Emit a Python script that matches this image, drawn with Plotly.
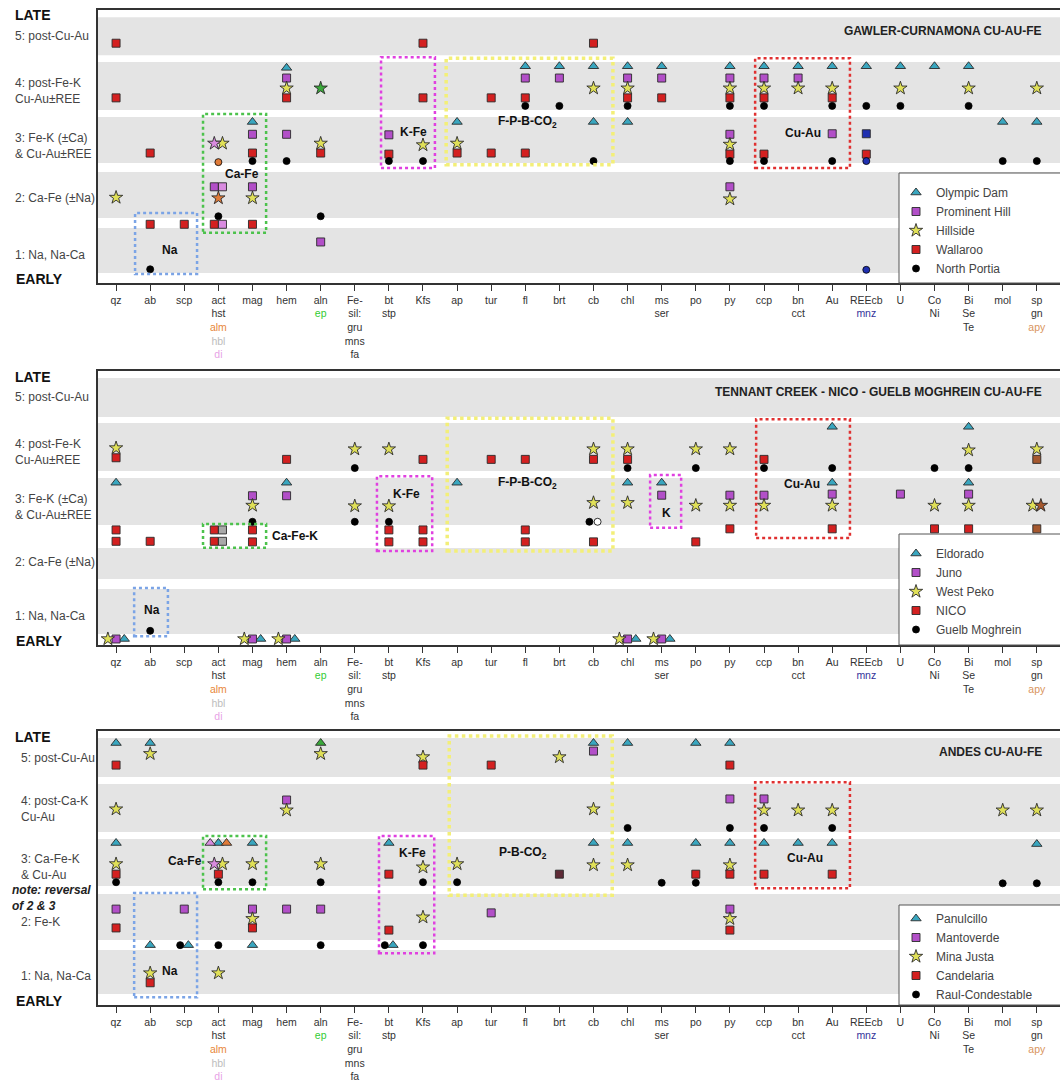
import plotly.graph_objects as go
from collections import defaultdict

# ---------------- categories / tick labels ----------------
CATS = ["qz", "ab", "scp", "act", "mag", "hem", "aln", "Fe-sil", "bt", "Kfs", "ap", "tur", "fl", "brt",
        "cb", "chl", "ms", "po", "py", "ccp", "bn", "Au", "REEcb", "U", "Co", "Bi", "mol", "sp"]

LABEL_COL = {"alm": "#e8873a", "hbl": "#bdbdbd", "di": "#e7a3e6", "ep": "#33cc33", "mnz": "#33339a", "apy": "#d9955e"}


def c(t, k):
    return "<span style='color:%s'>%s</span>" % (LABEL_COL[k], t)


TICKTEXT = ["qz", "ab", "scp",
            "act<br>hst<br>" + c("alm", "alm") + "<br>" + c("hbl", "hbl") + "<br>" + c("di", "di"),
            "mag", "hem", "aln<br>" + c("ep", "ep"), "Fe-<br>sil:<br>gru<br>mns<br>fa", "bt<br>stp", "Kfs",
            "ap", "tur", "fl", "brt", "cb", "chl", "ms<br>ser", "po", "py", "ccp", "bn<br>cct", "Au",
            "REEcb<br>" + c("mnz", "mnz"), "U", "Co<br>Ni", "Bi<br>Se<br>Te", "mol",
            "sp<br>gn<br>" + c("apy", "apy")]

# ---------------- data: stage level per occurrence ----------------
# Panel 1: Gawler-Curnamona
OD_CATS = ["hem", "fl", "brt", "cb", "chl", "ms", "py", "ccp", "bn", "Au", "REEcb", "U", "Co", "Bi",
           "mag", "ap", "cb", "chl", "mol", "sp"]
OD_Y = [4.41, 4.44, 4.44, 4.44, 4.44, 4.44, 4.44, 4.44, 4.44, 4.44, 4.44, 4.44, 4.44, 4.44,
        3.40, 3.40, 3.40, 3.40, 3.40, 3.40]
OD_V = [""] * len(OD_CATS)

PH_CATS = ["act", "act", "mag", "mag", "hem", "hem", "aln", "bt", "fl", "brt", "chl", "ms", "py", "py", "py",
           "ccp", "bn", "Au", "REEcb"]
PH_Y = [2.19, 2.19, 3.17, 2.19, 4.22, 3.17, 1.16, 3.16, 4.22, 4.22, 4.22, 4.22, 4.22, 3.17, 2.19,
        4.22, 4.22, 3.18, 3.18]
PH_V = ["", "di", "", "", "", "", "", "", "", "", "", "", "", "", "", "", "", "", "mnz"]

HS_CATS = ["qz", "act", "act", "act", "mag", "hem", "aln", "aln", "Kfs", "ap", "cb", "chl", "py", "py", "py",
           "ccp", "bn", "Au", "U", "Bi", "sp"]
HS_Y = [1.99, 3.00, 3.00, 1.98, 1.98, 4.03, 4.03, 3.00, 2.97, 3.00, 4.03, 4.03, 4.03, 2.98, 1.96,
        4.03, 4.03, 4.03, 4.03, 4.03, 4.03]
HS_V = ["", "di", "", "alm", "", "", "ep", "", "", "", "", "", "", "", "", "", "", "", "", "", ""]

WR_CATS = ["qz", "qz", "ab", "ab", "scp", "act", "act", "mag", "mag", "hem", "aln", "bt", "Kfs", "Kfs", "ap",
           "tur", "tur", "fl", "fl", "cb", "chl", "ms", "py", "py", "ccp", "ccp", "Au", "REEcb"]
WR_Y = [4.87, 3.85, 2.82, 1.49, 1.49, 1.49, 1.49, 2.82, 1.49, 3.85, 2.82, 2.80, 4.87, 3.85, 2.82,
        3.85, 2.82, 3.85, 2.82, 4.87, 3.85, 3.85, 3.85, 2.80, 3.85, 2.80, 3.85, 2.80]
WR_V = ["", "", "", "", "", "", "di"] + [""] * 21

NP_CATS = ["ab", "act", "act", "mag", "hem", "aln", "bt", "Kfs", "fl", "brt", "cb", "chl", "py", "py", "ccp",
           "ccp", "Au", "Au", "REEcb", "REEcb", "REEcb", "U", "Bi", "mol", "sp"]
NP_Y = [0.65, 2.65, 1.64, 2.67, 2.67, 1.64, 2.67, 2.67, 3.70, 3.70, 2.67, 3.70, 3.70, 2.67, 3.70,
        2.67, 3.70, 2.67, 3.70, 2.67, 0.64, 3.70, 3.70, 2.67, 2.67]
NP_V = ["", "alm"] + [""] * 17 + ["mnz", "mnz"] + [""] * 4

# Panel 2: Tennant Creek - NICO - Guelb Moghrein
EL_CATS = ["qz", "hem", "ap", "chl", "ms", "Au", "Au", "Bi", "Bi", "qz", "mag", "hem", "chl", "ms"]
EL_Y = [3.42, 3.42, 3.42, 3.42, 3.42, 4.45, 3.42, 4.45, 3.42, 0.54, 0.54, 0.54, 0.54, 0.54]
EL_V = [""] * len(EL_CATS)

JU_CATS = ["mag", "hem", "ms", "py", "ccp", "Au", "U", "Bi", "qz", "mag", "hem", "chl", "ms"]
JU_Y = [3.18, 3.18, 3.19, 3.19, 3.19, 3.21, 3.21, 3.21, 0.54, 0.54, 0.54, 0.54, 0.54]
JU_V = [""] * len(JU_CATS)

WP_CATS = ["qz", "mag", "Fe-sil", "Fe-sil", "bt", "bt", "cb", "cb", "chl", "chl", "po", "po", "py", "py",
           "ccp", "Au", "Co", "Bi", "Bi", "sp", "sp", "sp", "qz", "mag", "hem", "chl", "ms"]
WP_Y = [4.06, 3.00, 4.04, 2.99, 4.04, 2.99, 4.04, 3.05, 4.04, 3.05, 4.04, 3.00, 4.04, 3.00,
        3.00, 3.00, 3.00, 4.02, 3.00, 4.04, 3.00, 3.00, 0.54, 0.54, 0.54, 0.54, 0.54]
WP_V = [""] * 21 + ["apy"] + [""] * 5

NI_CATS = ["qz", "qz", "qz", "ab", "act", "act", "act", "act", "mag", "mag", "hem", "bt", "bt", "Kfs", "Kfs",
           "Kfs", "tur", "fl", "fl", "fl", "cb", "cb", "chl", "po", "py", "ccp", "Au", "Co", "Bi", "sp", "sp"]
NI_Y = [3.88, 2.55, 2.34, 2.34, 2.55, 2.55, 2.34, 2.34, 2.55, 2.33, 3.85, 2.55, 2.33, 3.85, 2.55,
        2.33, 3.85, 3.85, 2.55, 2.33, 3.85, 2.33, 3.85, 2.33, 2.57, 3.85, 2.57, 2.57, 2.57, 3.85, 2.57]
NI_V = ["", "", "", "", "", "hbl", "", "hbl"] + [""] * 21 + ["apy", "apy"]

GM_CATS = ["ab", "mag", "Fe-sil", "Fe-sil", "bt", "cb", "cb", "chl", "po", "ccp", "Au", "Co", "Bi"]
GM_Y = [0.69, 2.70, 3.69, 2.70, 2.70, 2.70, 2.70, 3.69, 3.69, 3.69, 3.69, 3.69, 3.69]
GM_V = ["", "", "", "", "", "", "open", "", "", "", "", "", ""]

# Panel 3: Andes
PA_CATS = ["qz", "qz", "ab", "ab", "scp", "act", "act", "act", "mag", "mag", "aln", "bt", "bt", "cb", "cb",
           "chl", "chl", "po", "po", "py", "py", "ccp", "bn", "Au", "sp"]
PA_Y = [5.26, 3.40, 5.26, 1.50, 1.50, 3.40, 3.40, 3.40, 3.40, 1.50, 5.26, 3.40, 1.50, 5.26, 3.40,
        5.26, 3.40, 5.26, 3.40, 5.26, 3.40, 3.40, 3.40, 3.40, 3.38]
PA_V = ["", "", "", "", "", "di", "", "alm", "", "", "ep"] + [""] * 14

MV_CATS = ["qz", "scp", "mag", "hem", "hem", "aln", "tur", "cb", "py", "py", "ccp"]
MV_Y = [2.17, 2.17, 2.17, 4.20, 2.17, 2.17, 2.10, 5.11, 4.22, 2.17, 4.22]
MV_V = [""] * len(MV_CATS)

MJ_CATS = ["qz", "qz", "ab", "ab", "act", "act", "act", "mag", "mag", "hem", "aln", "aln", "Kfs", "Kfs", "Kfs",
           "ap", "brt", "cb", "cb", "chl", "py", "py", "ccp", "bn", "Au", "mol", "sp"]
MJ_Y = [4.03, 3.01, 5.06, 0.98, 3.01, 3.01, 0.98, 3.01, 1.99, 4.01, 5.06, 3.01, 5.00, 2.95, 2.02,
        3.01, 5.00, 4.03, 2.99, 2.99, 2.99, 1.99, 4.01, 4.01, 4.01, 4.01, 4.01]
MJ_V = ["", "", "", "", "di"] + [""] * 22

CA_CATS = ["qz", "qz", "qz", "ab", "act", "mag", "bt", "bt", "Kfs", "tur", "brt", "po", "py", "py", "py",
           "ccp", "Au"]
CA_Y = [4.85, 2.82, 1.82, 0.80, 2.82, 1.82, 2.82, 1.78, 4.85, 4.85, 2.82, 2.82, 4.85, 2.82, 1.78, 2.82, 2.82]
CA_V = [""] * 10 + ["dark"] + [""] * 6

RC_CATS = ["qz", "act", "act", "mag", "aln", "aln", "scp", "bt", "Kfs", "Kfs", "ap", "chl", "ms", "po", "py",
           "ccp", "Au", "mol", "sp"]
RC_Y = [2.67, 2.67, 1.50, 2.67, 2.67, 1.50, 1.50, 1.50, 2.67, 1.50, 2.67, 3.68, 2.66, 2.66, 3.68,
        3.68, 3.68, 2.65, 2.65]
RC_V = [""] * len(RC_CATS)

# ---------------- styles ----------------
FONT = "Liberation Sans, Arial, sans-serif"
SYMBOLS = [("triangle-up", "#39a6bf", 9), ("square", "#b24fc8", 8), ("star", "#e0e058", 10),
           ("square", "#d42020", 8), ("circle", "#000000", 7)]
VAR_COL = {"alm": "#e07b39", "di": "#d98be0", "hbl": "#a9a9a9", "ep": "#3aa83a", "mnz": "#1f2fb0",
           "apy": "#a5582e", "open": "#ffffff", "dark": "#5e2a36"}
DODGE = 0.24

PANELS = [
    dict(title="GAWLER-CURNAMONA CU-AU-FE",
         series=[("Olympic Dam", OD_CATS, OD_Y, OD_V), ("Prominent Hill", PH_CATS, PH_Y, PH_V),
                 ("Hillside", HS_CATS, HS_Y, HS_V), ("Wallaroo", WR_CATS, WR_Y, WR_V),
                 ("North Portia", NP_CATS, NP_Y, NP_V)],
         yrange=[0.394, 5.49], dom=(10, 283), legtop=178,
         bands=[(4.647, 5.356), (3.621, 4.517), (2.632, 3.491), (1.606, 2.465), (0.580, 1.420)],
         boxes=[("Na", 0.557, 2.375, 0.56, 1.70, "#7ba4e6", 2.5, 1.58, 1.01),
                ("Ca-Fe", 2.55, 4.40, 1.33, 3.55, "#4cc24c", 2.5, 3.70, 2.43),
                ("K-Fe", 7.77, 9.35, 2.54, 4.61, "#e040e0", 2.5, 8.71, 3.21),
                ("F-P-B-CO<sub>2</sub>", 9.68, 14.57, 2.60, 4.59, "#f3ef78", 3.5, 12.05, 3.40),
                ("Cu-Au", 18.74, 21.52, 2.54, 4.59, "#e03030", 2.5, 20.15, 3.19)],
         rows=[("<b>LATE</b>", 5.39, 13, 14, "#111"), ("5: post-Cu-Au", 5.0, 13, 12, "#444"),
               ("4: post-Fe-K<br>Cu-Au±REE", 3.97, 13, 12, "#444"),
               ("3: Fe-K (±Ca)<br>& Cu-Au±REE", 2.96, 13, 12, "#444"),
               ("2: Ca-Fe (±Na)", 1.98, 13, 12, "#444"), ("1: Na, Na-Ca", 0.92, 13, 12, "#444"),
               ("<b>EARLY</b>", 0.47, 14, 14, "#111")],
         legbox=(173, 283)),
    dict(title="TENNANT CREEK - NICO - GUELB MOGHREIN CU-AU-FE",
         series=[("Eldorado", EL_CATS, EL_Y, EL_V), ("Juno", JU_CATS, JU_Y, JU_V),
                 ("West Peko", WP_CATS, WP_Y, WP_V), ("NICO", NI_CATS, NI_Y, NI_V),
                 ("Guelb Moghrein", GM_CATS, GM_Y, GM_V)],
         yrange=[0.429, 5.479], dom=(371, 645), legtop=539,
         bands=[(4.631, 5.350), (3.636, 4.521), (2.641, 3.507), (1.645, 2.217), (0.631, 1.461)],
         boxes=[("Na", 0.53, 1.52, 0.59, 1.48, "#7ba4e6", 2.5, 1.06, 1.07),
                ("Ca-Fe-K", 2.55, 4.40, 2.22, 2.66, "#4cc24c", 2.5, 5.25, 2.44),
                ("K-Fe", 7.65, 9.27, 2.16, 3.54, "#e040e0", 2.5, 8.53, 3.21),
                ("F-P-B-CO<sub>2</sub>", 9.71, 14.57, 2.16, 4.61, "#f3ef78", 3.5, 12.05, 3.41),
                ("K", 15.66, 16.57, 2.59, 3.56, "#e040e0", 2.5, 16.13, 2.86),
                ("Cu-Au", 18.77, 21.52, 2.40, 4.59, "#e03030", 2.5, 20.12, 3.40)],
         rows=[("<b>LATE</b>", 5.37, 13, 14, "#111"), ("5: post-Cu-Au", 5.0, 13, 12, "#444"),
               ("4: post-Fe-K<br>Cu-Au±REE", 3.99, 13, 12, "#444"),
               ("3: Fe-K (±Ca)<br>& Cu-Au±REE", 2.98, 13, 12, "#444"),
               ("2: Ca-Fe (±Na)", 1.96, 13, 12, "#444"), ("1: Na, Na-Ca", 0.96, 13, 12, "#444"),
               ("<b>EARLY</b>", 0.50, 14, 14, "#111")],
         legbox=(534, 645)),
    dict(title="ANDES CU-AU-FE",
         series=[("Panulcillo", PA_CATS, PA_Y, PA_V), ("Mantoverde", MV_CATS, MV_Y, MV_V),
                 ("Mina Justa", MJ_CATS, MJ_Y, MJ_V), ("Candelaria", CA_CATS, CA_Y, CA_V),
                 ("Raul-Condestable", RC_CATS, RC_Y, RC_V)],
         yrange=[0.386, 5.484], dom=(731, 1005), legtop=904,
         bands=[(4.628, 5.353), (3.605, 4.498), (2.600, 3.474), (1.595, 2.451), (0.591, 1.409)],
         boxes=[("Na", 0.53, 2.375, 0.53, 2.47, "#7ba4e6", 2.5, 1.58, 1.02),
                ("Ca-Fe", 2.55, 4.40, 2.54, 3.53, "#4cc24c", 2.5, 2.02, 3.07),
                ("K-Fe", 7.71, 9.33, 1.35, 3.53, "#e040e0", 2.5, 8.68, 3.21),
                ("P-B-CO<sub>2</sub>", 9.77, 14.55, 2.43, 5.39, "#f3ef78", 3.5, 11.94, 3.21),
                ("Cu-Au", 18.74, 21.52, 2.56, 4.53, "#e03030", 2.5, 20.2, 3.12)],
         rows=[("<b>LATE</b>", 5.37, 13, 14, "#111"), ("5: post-Cu-Au", 4.98, 19, 12, "#444"),
               ("4: post-Ca-K<br>Cu-Au", 4.03, 19, 12, "#444"),
               ("3: Ca-Fe-K<br>& Cu-Au", 2.95, 19, 12, "#444"),
               ("<b><i>note: reversal<br>of 2 & 3</i></b>", 2.37, 10, 12, "#222"),
               ("2: Fe-K", 1.93, 19, 12, "#444"), ("1: Na, Na-Ca", 0.93, 19, 12, "#444"),
               ("<b>EARLY</b>", 0.46, 14, 14, "#111")],
         legbox=(905, 1005)),
]

W, H = 1060, 1082
LM = 98
XR = [-0.53, 27.68]


def pxx(p):
    return (p - LM) / (W - LM)


def pxy(p):
    return 1 - p / H


fig = go.Figure()
shapes, annos = [], []
layout = {}

for k, P in enumerate(PANELS, start=1):
    sfx = "" if k == 1 else str(k)
    xa, ya = "x" + sfx, "y" + sfx
    leg = "legend" + sfx

    # dodge coincident markers horizontally
    groups = defaultdict(list)
    for si, (name, cats, ys, vs) in enumerate(P["series"]):
        for j, (cc, yy) in enumerate(zip(cats, ys)):
            groups[(cc, round(yy, 3))].append((si, j))
    xpos = {}
    for key, mem in groups.items():
        mem.sort(key=lambda m: (-m[0], m[1]))
        n = len(mem)
        for r, m in enumerate(mem):
            xpos[m] = CATS.index(key[0]) + (r - (n - 1) / 2) * DODGE

    for si, (name, cats, ys, vs) in enumerate(P["series"]):
        sym, col, size = SYMBOLS[si]
        variants = [""] + sorted(set(v for v in vs if v))
        for v in variants:
            idx = [j for j in range(len(cats)) if vs[j] == v]
            if not idx:
                continue
            fill = col if v == "" else VAR_COL[v]
            lcol = "#000000" if sym == "circle" else "#2a2a2a"
            fig.add_trace(go.Scatter(
                x=[xpos[(si, j)] for j in idx], y=[ys[j] for j in idx],
                mode="markers", name=name, legend=leg, legendgroup=f"{k}-{name}",
                showlegend=(v == ""), xaxis=xa, yaxis=ya, hoverinfo="skip",
                marker=dict(symbol=sym, size=size, color=fill,
                            line=dict(color=lcol, width=0.9 if sym != "circle" else 0.8))))

    d0, d1 = P["dom"]
    layout["xaxis" + sfx] = dict(domain=[0, 1], range=XR, anchor=ya, tickmode="array",
                                 tickvals=list(range(len(CATS))), ticktext=TICKTEXT,
                                 ticks="outside", ticklen=6, tickwidth=1, tickcolor="#333",
                                 showline=True, linecolor="#333", linewidth=2, mirror=True,
                                 showgrid=False, zeroline=False, automargin=False,
                                 tickfont=dict(family=FONT, size=10.5, color="#333"))
    layout["yaxis" + sfx] = dict(domain=[pxy(d1), pxy(d0)], range=P["yrange"], anchor=xa,
                                 showline=True, linecolor="#333", linewidth=2, mirror=False,
                                 showgrid=False, zeroline=False, showticklabels=False, ticks="",
                                 automargin=False)

    for (b0, b1) in P["bands"]:
        shapes.append(dict(type="rect", xref=xa + " domain", yref=ya, x0=0, x1=1, y0=b0, y1=b1,
                           fillcolor="#e4e4e4", line=dict(width=0), layer="below"))
    for (lab, x0, x1, y0, y1, lc, lw, tx, ty) in P["boxes"]:
        shapes.append(dict(type="rect", xref=xa, yref=ya, x0=x0, x1=x1, y0=y0, y1=y1,
                           line=dict(color=lc, width=lw, dash="dot"), fillcolor="rgba(0,0,0,0)",
                           layer="above"))
        annos.append(dict(text="<b>%s</b>" % lab, xref=xa, yref=ya, x=tx, y=ty, showarrow=False,
                          font=dict(family=FONT, size=12, color="#111")))
    annos.append(dict(text="<b>%s</b>" % P["title"], xref="paper", yref=ya, x=pxx(1044), y=5.10,
                      xanchor="right", showarrow=False, font=dict(family=FONT, size=12, color="#222")))
    for (txt, yy, px0, fs, fc) in P["rows"]:
        annos.append(dict(text=txt, xref="paper", yref=ya, x=pxx(px0), y=yy, xanchor="left",
                          align="left", showarrow=False, font=dict(family=FONT, size=fs, color=fc)))
    lb0, lb1 = P["legbox"]
    shapes.append(dict(type="rect", xref="paper", yref="paper", x0=pxx(899), x1=1.05,
                       y0=pxy(lb1), y1=pxy(lb0), fillcolor="white",
                       line=dict(color="#555", width=1), layer="above"))
    layout[leg] = dict(x=pxx(896), y=pxy(P["legtop"]), xanchor="left", yanchor="top",
                       bgcolor="rgba(0,0,0,0)", borderwidth=0, tracegroupgap=0,
                       font=dict(family=FONT, size=12, color="#444"))

fig.update_layout(width=W, height=H, margin=dict(l=LM, r=0, t=0, b=0),
                  paper_bgcolor="white", plot_bgcolor="white",
                  font=dict(family=FONT), shapes=shapes, annotations=annos, **layout)

fig.write_html("out.html", config={"displayModeBar": False},
               post_script="document.body.style.margin='0px';document.body.style.overflow='hidden';")
